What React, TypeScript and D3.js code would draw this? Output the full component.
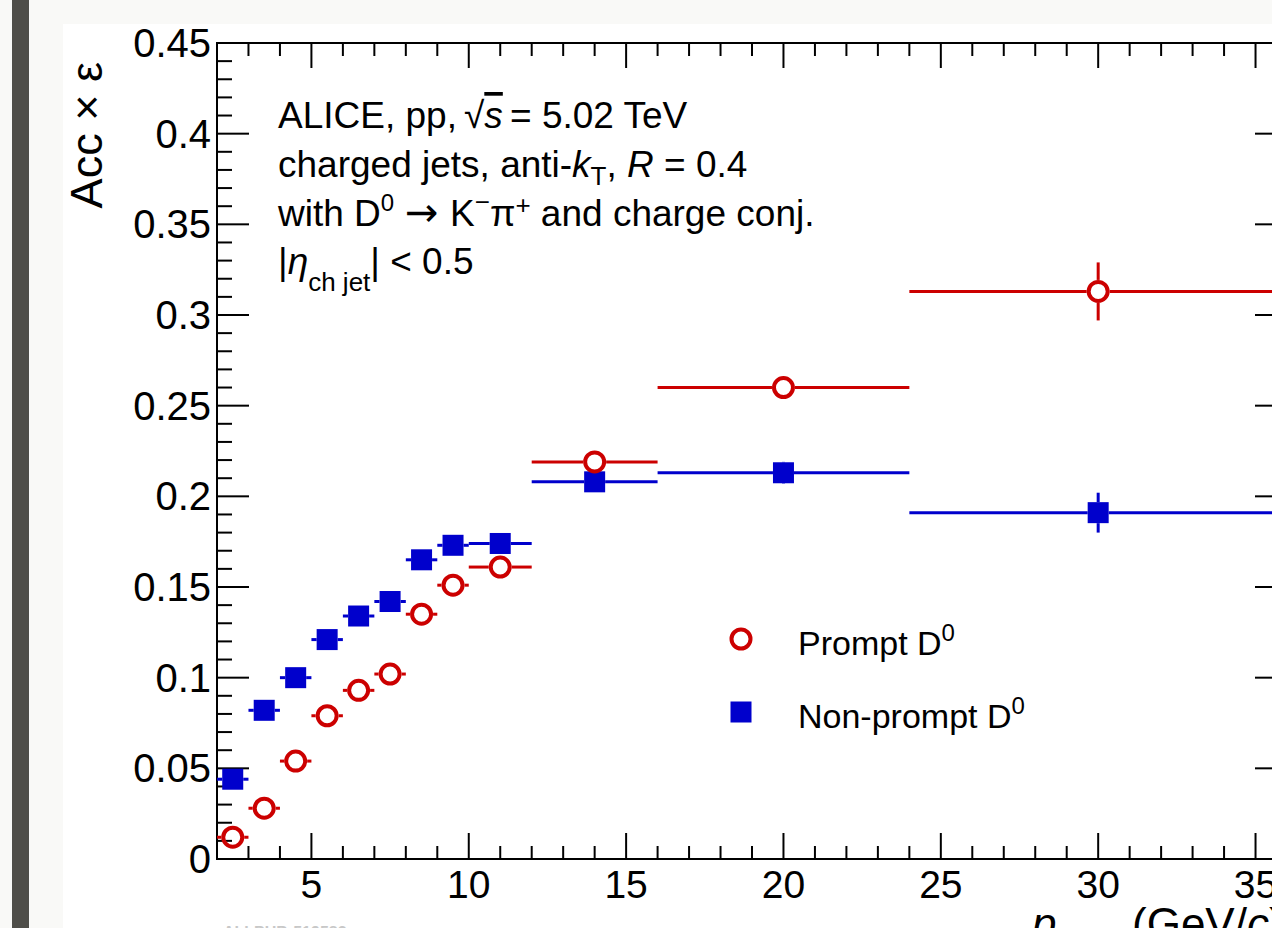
import React from "react";
import * as d3 from "d3";

// ---- data ----
const binLow = [2, 3, 4, 5, 6, 7, 8, 9, 10, 12, 16, 24];
const binHigh = [3, 4, 5, 6, 7, 8, 9, 10, 12, 16, 24, 36];
const promptEff = [0.012, 0.028, 0.054, 0.079, 0.093, 0.102, 0.135, 0.151, 0.161, 0.219, 0.26, 0.313];
const promptErr = [0.001, 0.001, 0.002, 0.002, 0.002, 0.003, 0.003, 0.004, 0.004, 0.005, 0.006, 0.016];
const nonPromptEff = [0.044, 0.082, 0.1, 0.121, 0.134, 0.142, 0.165, 0.173, 0.174, 0.208, 0.213, 0.191];
const nonPromptErr = [0.002, 0.003, 0.003, 0.003, 0.004, 0.004, 0.004, 0.005, 0.005, 0.005, 0.006, 0.011];

const xMajorTicks = [5, 10, 15, 20, 25, 30, 35];
const xTickLabels = ["5", "10", "15", "20", "25", "30", "35"];
const yMajorTicks = [0, 0.05, 0.1, 0.15, 0.2, 0.25, 0.3, 0.35, 0.4, 0.45];
const yTickLabels = ["0", "0.05", "0.1", "0.15", "0.2", "0.25", "0.3", "0.35", "0.4", "0.45"];

const RED = "#cc0000";
const BLUE = "#0000cc";
const FONT = "'Liberation Sans', Arial, Helvetica, sans-serif";

const W = 1272;
const H = 928;
const L = 217, R = 1287, T = 43, B = 859;

export default function App() {
  const x = d3.scaleLinear().domain([2, 36]).range([L, R]);
  const y = d3.scaleLinear().domain([0, 0.45]).range([B, T]);

  const xMinor = d3.range(2, 36.001, 1).filter((v) => v % 5 !== 0);
  const yMinor = d3.range(0, 46, 1).map((v) => v / 100).filter((v, i) => i % 5 !== 0);

  const circR = 9.5;
  const circOuter = 11.5;
  const sqHalf = 10.5;

  const renderSeries = (vals: number[], errs: number[], color: string, kind: "circle" | "square") => {
    const gap = kind === "circle" ? circOuter : sqHalf;
    return vals.map((v, i) => {
      const cx = x((binLow[i] + binHigh[i]) / 2);
      const cy = y(v);
      const x0 = x(binLow[i]);
      const x1 = x(binHigh[i]);
      const yTop = y(v + errs[i]);
      const yBot = y(v - errs[i]);
      const segs: [number, number, number, number][] = [];
      if (cx - gap > x0) segs.push([x0, cy, cx - gap, cy]);
      if (x1 > cx + gap) segs.push([cx + gap, cy, x1, cy]);
      if (cy - gap > yTop) segs.push([cx, yTop, cx, cy - gap]);
      if (yBot > cy + gap) segs.push([cx, cy + gap, cx, yBot]);
      return (
        <g key={i}>
          {segs.map((s, j) => (
            <line key={j} x1={s[0]} y1={s[1]} x2={s[2]} y2={s[3]} stroke={color} strokeWidth={3} />
          ))}
          {kind === "circle" ? (
            <circle cx={cx} cy={cy} r={circR} fill="none" stroke={color} strokeWidth={4} />
          ) : (
            <rect x={cx - sqHalf} y={cy - sqHalf} width={sqHalf * 2} height={sqHalf * 2} fill={color} />
          )}
        </g>
      );
    });
  };

  const textSize = 37;
  const lineX = 278;
  const sub = { fontSize: 26 } as const;

  return (
    <svg
      width={W}
      height={H}
      style={{ position: "absolute", left: 0, top: 0, display: "block" }}
      fontFamily={FONT}
    >
      {/* page background */}
      <rect x={0} y={0} width={W} height={H} fill="#f9f9f7" />
      <rect x={12} y={0} width={17} height={H} fill="#4f4e49" />
      <rect x={63} y={24} width={W - 63} height={H - 24} fill="#ffffff" />

      {/* frame */}
      <rect x={L} y={T} width={R - L} height={B - T} fill="none" stroke="#000" strokeWidth={2} />

      {/* x ticks */}
      {xMajorTicks.map((v) => (
        <g key={"xM" + v}>
          <line x1={x(v)} x2={x(v)} y1={B} y2={B - 26} stroke="#000" strokeWidth={2} />
          <line x1={x(v)} x2={x(v)} y1={T} y2={T + 25} stroke="#000" strokeWidth={2} />
        </g>
      ))}
      {xMinor.map((v) => (
        <g key={"xm" + v}>
          <line x1={x(v)} x2={x(v)} y1={B} y2={B - 13} stroke="#000" strokeWidth={2} />
          <line x1={x(v)} x2={x(v)} y1={T} y2={T + 13} stroke="#000" strokeWidth={2} />
        </g>
      ))}
      {/* y ticks */}
      {yMajorTicks.map((v) => (
        <g key={"yM" + v}>
          <line x1={L} x2={L + 32} y1={y(v)} y2={y(v)} stroke="#000" strokeWidth={2} />
          <line x1={R} x2={R - 32} y1={y(v)} y2={y(v)} stroke="#000" strokeWidth={2} />
        </g>
      ))}
      {yMinor.map((v) => (
        <g key={"ym" + v}>
          <line x1={L} x2={L + 15} y1={y(v)} y2={y(v)} stroke="#000" strokeWidth={2} />
          <line x1={R} x2={R - 15} y1={y(v)} y2={y(v)} stroke="#000" strokeWidth={2} />
        </g>
      ))}

      {/* tick labels */}
      {xMajorTicks.map((v, i) => (
        <text key={"xl" + v} x={x(v)} y={898} textAnchor="middle" fontSize={39} fill="#000">
          {xTickLabels[i]}
        </text>
      ))}
      {yMajorTicks.map((v, i) => (
        <text key={"yl" + v} x={211} y={y(v) + 14} textAnchor="end" fontSize={40} fill="#000">
          {yTickLabels[i]}
        </text>
      ))}

      {/* axis titles */}
      <text transform={`translate(102, 62) rotate(-90)`} textAnchor="end" fontSize={45} fill="#000">
        Acc × ε
      </text>
      <text y={939} fontSize={44} fill="#000">
        <tspan x={1032} fontStyle="italic">p</tspan>
        <tspan dy={14} fontSize={30}>T,ch jet</tspan>
        <tspan x={1132} dy={-14}>(GeV/</tspan>
        <tspan fontStyle="italic">c</tspan>
        <tspan>)</tspan>
      </text>
      <text x={223} y={938} fontSize={16} fill="#c8c8c8" fontWeight="bold">ALI-PUB-519583</text>

      {/* data */}
      {renderSeries(nonPromptEff, nonPromptErr, BLUE, "square")}
      {renderSeries(promptEff, promptErr, RED, "circle")}

      {/* annotation text */}
      <g fontSize={textSize} fill="#000">
        <text x={lineX} y={128}>
          ALICE, pp,
          <tspan x={464}>√</tspan>
          <tspan fontStyle="italic" style={{ textDecoration: "overline" }}>s</tspan>
          <tspan x={510}>= 5.02 TeV</tspan>
        </text>
        <text x={lineX} y={177}>
          charged jets, anti-
          <tspan fontStyle="italic">k</tspan>
          <tspan dy={8} style={sub}>T</tspan>
          <tspan dy={-8}>, </tspan>
          <tspan fontStyle="italic">R</tspan>
          {" = 0.4"}
        </text>
        <text x={lineX} y={226}>
          with D
          <tspan dy={-15} fontSize={24}>0</tspan>
          <tspan dy={15} x={405} fontFamily="'DejaVu Sans', sans-serif" fontSize={40}>→</tspan>
          <tspan x={450}>K</tspan>
          <tspan dy={-15} style={sub}>−</tspan>
          <tspan dy={15}>π</tspan>
          <tspan dy={-12} style={sub}>+</tspan>
          <tspan dy={12}> and charge conj.</tspan>
        </text>
        <text x={lineX} y={274}>
          |
          <tspan fontStyle="italic">η</tspan>
          <tspan dy={17} style={sub}>ch jet</tspan>
          <tspan dy={-17}>| &lt; 0.5</tspan>
        </text>
      </g>

      {/* legend */}
      <circle cx={741} cy={639} r={circR} fill="none" stroke={RED} strokeWidth={4} />
      <rect x={741 - sqHalf} y={712 - sqHalf} width={sqHalf * 2} height={sqHalf * 2} fill={BLUE} />
      <g fontSize={34} fill="#000">
        <text x={798} y={655}>
          Prompt D<tspan dy={-14} fontSize={24}>0</tspan>
        </text>
        <text x={798} y={728}>
          Non-prompt D<tspan dy={-14} fontSize={24}>0</tspan>
        </text>
      </g>
    </svg>
  );
}
